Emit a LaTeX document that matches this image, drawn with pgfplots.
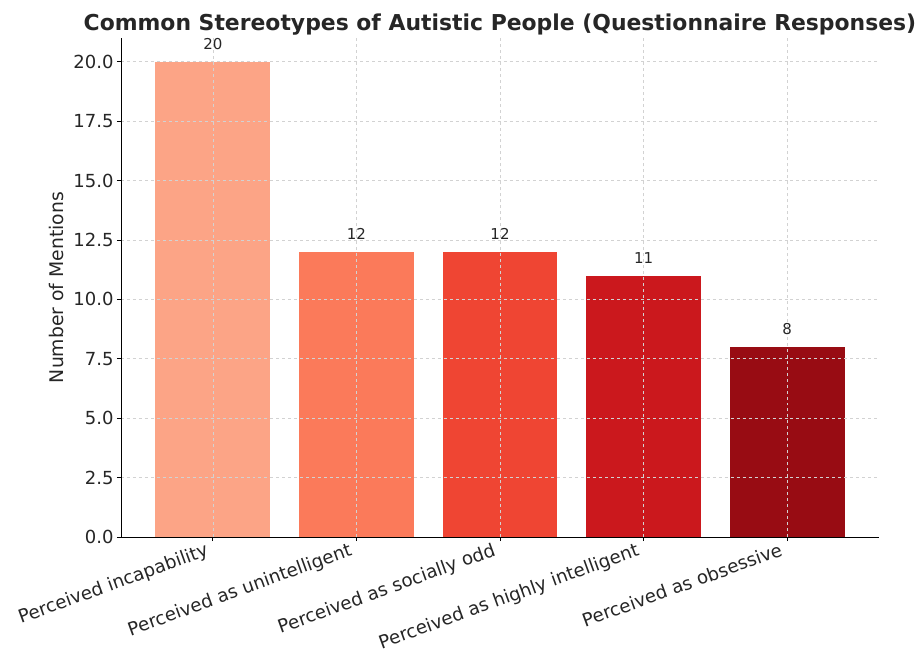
\documentclass[border=0pt]{standalone}
\usepackage{pgfplots}
\pgfplotsset{compat=1.18}
\usepackage{fontspec}
\setmainfont{DejaVu Sans}
\definecolor{txt}{HTML}{262626}
\definecolor{c1}{HTML}{FCA486}
\definecolor{c2}{HTML}{FB7A5A}
\definecolor{c3}{HTML}{EF4533}
\definecolor{c4}{HTML}{CB181D}
\definecolor{c5}{HTML}{980C13}
\begin{document}
\begin{tikzpicture}
\begin{axis}[
  name=ax,
  scale only axis,
  width=758bp, height=499bp,
  xmin=-0.64, xmax=4.64,
  ymin=0, ymax=21,
  axis x line*=bottom, axis y line*=left,
  axis line style={black, line width=0.9pt},
  xtick={0,1,2,3,4},
  xticklabels={Perceived incapability,Perceived as unintelligent,Perceived as socially odd,Perceived as highly intelligent,Perceived as obsessive},
  ytick={0,2.5,...,20},
  yticklabel style={/pgf/number format/.cd, fixed, fixed zerofill, precision=1},
  /pgf/number format/assume math mode=true,
  tick label style={font=\fontsize{18bp}{21bp}\selectfont, text=txt},
  xticklabel style={font=\fontsize{18.3bp}{21bp}\selectfont, rotate=20, anchor=north east, inner sep=1pt, yshift=3bp, xshift=-7bp},
  tick align=outside,
  major tick length=4bp,
  tick style={black, line width=0.8pt},
  xmajorgrids, ymajorgrids,
  grid style={dashed, gray!35, line width=0.6pt},
  axis on top,
  ylabel={Number of Mentions},
  ylabel style={font=\fontsize{18.8bp}{22bp}\selectfont, text=txt, yshift=3bp},
  title={\textbf{Common Stereotypes of Autistic People (Questionnaire Responses)}},
  title style={font=\fontsize{21.9bp}{26bp}\selectfont, text=txt, yshift=-7bp},
  ybar, bar width=0.8, bar shift=0pt,
  nodes near coords,
  nodes near coords style={font=\fontsize{15bp}{18bp}\selectfont, text=txt, yshift=9bp},
]
\addplot[fill=c1, draw=none] coordinates {(0,20)};
\addplot[fill=c2, draw=none] coordinates {(1,12)};
\addplot[fill=c3, draw=none] coordinates {(2,12)};
\addplot[fill=c4, draw=none] coordinates {(3,11)};
\addplot[fill=c5, draw=none] coordinates {(4,8)};
\end{axis}
\pgfresetboundingbox
\path ([shift={(-121bp,-117bp)}]ax.south west) rectangle ++(921bp,654bp);
\end{tikzpicture}
\end{document}
